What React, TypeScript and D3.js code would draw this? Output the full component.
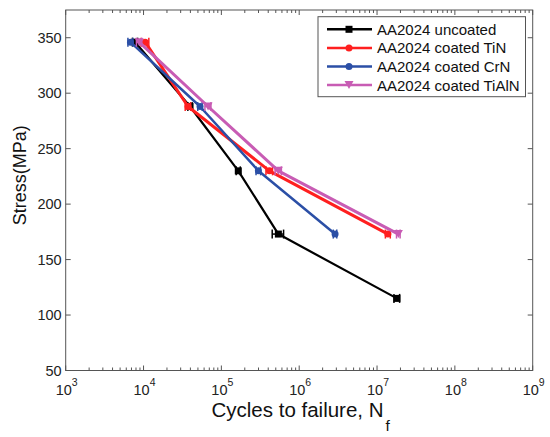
import React from 'react';
import * as d3 from 'd3';

// stress levels (MPa) and cycles to failure
const stressLevels = [346, 288, 230, 173, 115];

const uncoatedCycles = [7800, 39600, 165000, 540000, 18000000];
const uncoatedErr = [600, 2500, 10000, 90000, 1500000];

const tinCycles = [10500, 37300, 414000, 13800000];
const tinErr = [1200, 3000, 40000, 1000000];

const crnCycles = [6800, 53200, 299000, 2890000];
const crnErr = [500, 3500, 20000, 150000];

const tialnCycles = [8800, 67500, 540000, 18800000];
const tialnErr = [700, 6000, 50000, 1000000];

const seriesNames = ['AA2024 uncoated', 'AA2024 coated TiN', 'AA2024 coated CrN', 'AA2024 coated TiAlN'];
const seriesColors = ['#000000', '#ff1f1f', '#2b4fa6', '#c85cb4'];
const seriesMarkers = ['square', 'circle', 'circle', 'triangle'];

const yTicks = [50, 100, 150, 200, 250, 300, 350];
const xDecades = [3, 4, 5, 6, 7, 8, 9];

const W = 550;
const H = 437;
const margin = { left: 65.7, right: 17.3, top: 10, bottom: 66.5 };

const FONT = 'Arial, "Liberation Sans", Helvetica, sans-serif';

const Marker: React.FC<{ kind: string; x: number; y: number; color: string }> = ({ kind, x, y, color }) => {
    if (kind === 'square') {
        return <rect x={x - 3.5} y={y - 3.5} width={7} height={7} fill={color} />;
    }
    if (kind === 'triangle') {
        return <path d={`M${x - 4.5},${y - 4} L${x + 4.5},${y - 4} L${x},${y + 4} Z`} fill={color} />;
    }
    return <circle cx={x} cy={y} r={3.5} fill={color} />;
};

const App: React.FC = () => {
    const x = d3.scaleLog().domain([1e3, 1e9]).range([margin.left, W - margin.right]);
    const y = d3.scaleLinear().domain([50, 375]).range([H - margin.bottom, margin.top]);

    const x0 = margin.left;
    const x1 = W - margin.right;
    const y0 = H - margin.bottom;
    const y1 = margin.top;

    const series = [
        { cycles: uncoatedCycles, err: uncoatedErr, width: 2.2 },
        { cycles: tinCycles, err: tinErr, width: 3 },
        { cycles: crnCycles, err: crnErr, width: 2.5 },
        { cycles: tialnCycles, err: tialnErr, width: 3 },
    ];

    const line = d3.line<[number, number]>()
        .x(d => x(d[0]))
        .y(d => y(d[1]));

    // minor ticks 2..9 in every decade
    const minorTicks: number[] = [];
    xDecades.slice(0, -1).forEach(k => {
        for (let m = 2; m <= 9; m++) minorTicks.push(m * Math.pow(10, k));
    });

    const axisColor = '#555';

    return (
        <svg width={W} height={H} style={{ position: 'absolute', left: 0, top: 0, background: '#fff' }}>
            <rect x={0} y={0} width={W} height={H} fill="#fff" />

            {/* data */}
            {series.map((s, si) => {
                const pts = s.cycles.map((c, i) => [c, stressLevels[i]] as [number, number]);
                const color = seriesColors[si];
                return (
                    <g key={si}>
                        <path d={line(pts) || ''} fill="none" stroke={color} strokeWidth={s.width} strokeLinejoin="round" />
                        {pts.map((p, i) => {
                            const px = x(p[0]);
                            const py = y(p[1]);
                            const lo = x(p[0] - s.err[i]);
                            const hi = x(p[0] + s.err[i]);
                            return (
                                <g key={i}>
                                    <line x1={lo} x2={hi} y1={py} y2={py} stroke={color} strokeWidth={1.5} />
                                    <line x1={lo} x2={lo} y1={py - 4.5} y2={py + 4.5} stroke={color} strokeWidth={1.5} />
                                    <line x1={hi} x2={hi} y1={py - 4.5} y2={py + 4.5} stroke={color} strokeWidth={1.5} />
                                    <Marker kind={seriesMarkers[si]} x={px} y={py} color={color} />
                                </g>
                            );
                        })}
                    </g>
                );
            })}

            {/* axes box */}
            <rect x={x0} y={y1} width={x1 - x0} height={y0 - y1} fill="none" stroke={axisColor} strokeWidth={1} />

            {/* y ticks */}
            {yTicks.map(t => (
                <g key={t}>
                    <line x1={x0} x2={x0 + 5} y1={y(t)} y2={y(t)} stroke={axisColor} />
                    <line x1={x1} x2={x1 - 5} y1={y(t)} y2={y(t)} stroke={axisColor} />
                    <text x={x0 - 4} y={y(t)} dy="0.35em" textAnchor="end" fontFamily={FONT} fontSize={14.5} fill="#222">
                        {t}
                    </text>
                </g>
            ))}

            {/* x ticks */}
            {xDecades.map(k => {
                const px = x(Math.pow(10, k));
                return (
                    <g key={k}>
                        <line x1={px} x2={px} y1={y0} y2={y0 - 5} stroke={axisColor} />
                        <line x1={px} x2={px} y1={y1} y2={y1 + 5} stroke={axisColor} />
                        <text x={px + 1} y={y0 + 24} textAnchor="middle" fontFamily={FONT} fontSize={14.5} fill="#222">
                            10
                            <tspan fontSize={10.5} dy={-9}>{k}</tspan>
                        </text>
                    </g>
                );
            })}
            {minorTicks.map((m, i) => (
                <g key={i}>
                    <line x1={x(m)} x2={x(m)} y1={y0} y2={y0 - 3} stroke={axisColor} />
                    <line x1={x(m)} x2={x(m)} y1={y1} y2={y1 + 3} stroke={axisColor} />
                </g>
            ))}

            {/* axis labels */}
            <text x={211.5} y={416.5} fontFamily={FONT} fontSize={20.5} fill="#111">
                Cycles to failure, N
                <tspan fontSize={15.5} dx={2} dy={14}>f</tspan>
            </text>
            <text
                transform={`translate(26, ${(y0 + y1) / 2 - 15}) rotate(-90)`}
                textAnchor="middle"
                fontFamily={FONT}
                fontSize={18}
                fill="#111"
            >
                Stress(MPa)
            </text>

            {/* legend */}
            <g>
                <rect x={318} y={16.7} width={207.5} height={80} fill="#fff" stroke={axisColor} strokeWidth={1} />
                {seriesNames.map((name, i) => {
                    const ly = 29.3 + i * 18.6;
                    return (
                        <g key={name}>
                            <line x1={327} x2={372} y1={ly} y2={ly} stroke={seriesColors[i]} strokeWidth={2.5} />
                            <Marker kind={seriesMarkers[i]} x={349} y={ly} color={seriesColors[i]} />
                            <text x={377} y={ly} dy="0.36em" fontFamily={FONT} fontSize={15} fill="#111">
                                {name}
                            </text>
                        </g>
                    );
                })}
            </g>
        </svg>
    );
};

export default App;
